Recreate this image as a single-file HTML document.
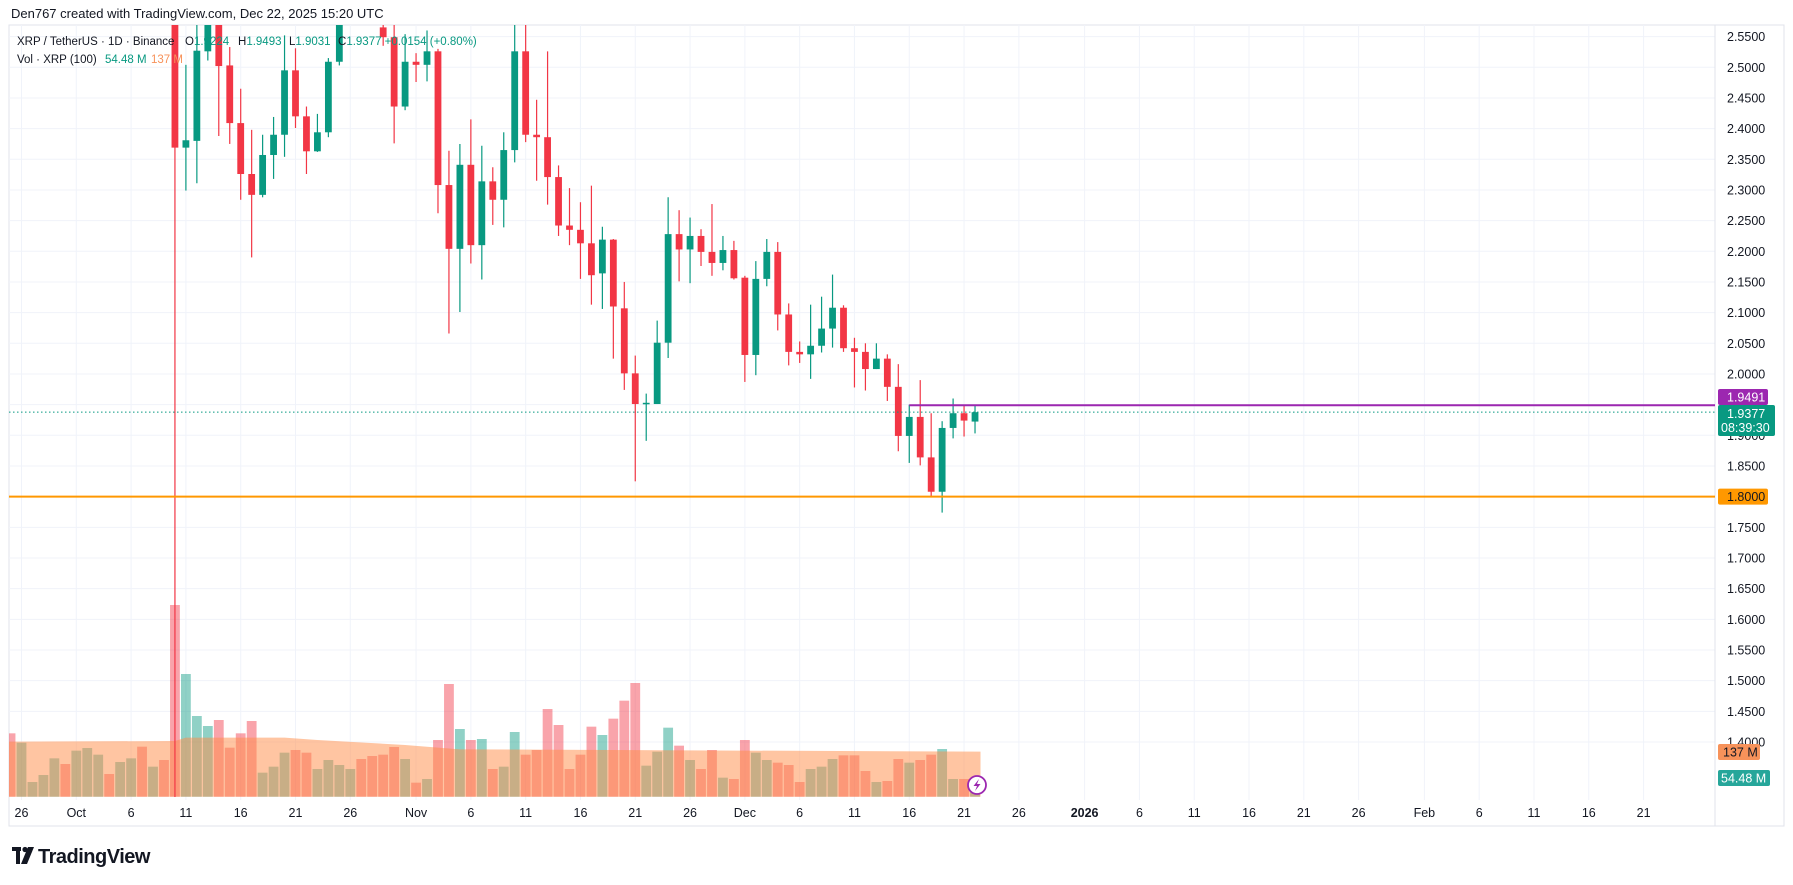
<!DOCTYPE html>
<html><head><meta charset="utf-8">
<style>
html,body{margin:0;padding:0;background:#fff;}
svg{display:block;font-family:"Liberation Sans",sans-serif;}
</style></head>
<body>
<svg id="s" width="1793" height="885" viewBox="0 0 1793 885" xmlns="http://www.w3.org/2000/svg"></svg>
<script>
const S=document.getElementById('s');
let h='';
const X=d=>76.3+10.96*d;
const Y=p=>36.6+(2.55-p)*613.4;
const L=9,R=1715,T=25,B=800;
h+=`<rect x="${L}" y="${T}" width="${1784-L}" height="${826-T}" fill="#fff" stroke="#e0e3eb" stroke-width="1"/>`;
for(let i=0;i<=23;i++){const p=2.55-i*0.05;const y=Y(p);h+=`<line x1="${L}" x2="${R}" y1="${y}" y2="${y}" stroke="#f0f3fa"/>`;}
const ticks=[[-5,'26'],[0,'Oct'],[5,'6'],[10,'11'],[15,'16'],[20,'21'],[25,'26'],[31,'Nov'],[36,'6'],[41,'11'],[46,'16'],[51,'21'],[56,'26'],[61,'Dec'],[66,'6'],[71,'11'],[76,'16'],[81,'21'],[86,'26'],[92,'2026'],[97,'6'],[102,'11'],[107,'16'],[112,'21'],[117,'26'],[123,'Feb'],[128,'6'],[133,'11'],[138,'16'],[143,'21']];
for(const [d,t] of ticks){const x=X(d);h+=`<line x1="${x}" x2="${x}" y1="${T}" y2="${B}" stroke="#f0f3fa"/>`;
const bold=(t=='2026');h+=`<text x="${x}" y="817" font-size="12.5" fill="#131722" text-anchor="middle"${bold?' font-weight="bold"':''}>${t}</text>`;}
h+=`<line x1="${R}" x2="${R}" y1="${T}" y2="826" stroke="#e0e3eb"/>`;
h+=`<clipPath id="c"><rect x="${L}" y="${T}" width="${R-L}" height="${797-T}"/></clipPath><g clip-path="url(#c)">`;
const V="430r,458g,576g,555g,505g,522r,482g,474g,494g,552r,516g,505g,470r,530g,510r,45r,252g,378g,408g,390r,473r,430r,393r,548g,530g,488g,480r,488r,537g,510g,525g,537g,507r,498r,494r,471r,507g,578r,567g,450r,282r,417g,450r,447g,537r,530g,426g,494r,480r,357r,405r,537r,494r,410r,435g,386r,332r,279r,527g,485g,413g,467r,510g,537r,480r,563g,567r,450r,488g,510g,518r,525r,576r,537g,530g,507g,496r,496r,543r,576g,573r,507r,518g,510r,494r,477g,567g,567r,590g".split(',');
V.forEach((v,i)=>{const d=i-6;const zy=parseFloat(v);const y=590+zy/3;const c=v.endsWith('r')?'rgba(242,54,69,0.45)':'rgba(8,153,129,0.45)';
h+=`<rect x="${X(d)-4.9}" y="${y}" width="9.8" height="${796.7-y}" fill="${c}"/>`;});
const ma=[[-6.5,455],[9,453],[10,443],[19,443],[22,450],[30,465],[35,478],[82.5,485]];
let pts=ma.map(([d,z])=>`${X(d)},${590+z/3}`).join(' ');
h+=`<polygon points="${X(-6.5)},796.7 ${pts} ${X(82.5)},796.7" fill="rgba(255,140,70,0.5)"/>`;
const C=[[9,2.85,2.9,1.0,2.369],[10,2.369,2.504,2.299,2.381],[11,2.38,2.6,2.311,2.527],[12,2.526,2.65,2.511,2.62],[13,2.62,2.65,2.388,2.502],[14,2.503,2.533,2.375,2.409],[15,2.409,2.465,2.284,2.326],[16,2.326,2.398,2.19,2.292],[17,2.292,2.39,2.288,2.357],[18,2.357,2.419,2.318,2.390],[19,2.39,2.552,2.354,2.495],[20,2.495,2.531,2.401,2.42],[21,2.42,2.436,2.326,2.363],[22,2.363,2.424,2.362,2.394],[23,2.394,2.515,2.386,2.509],[24,2.509,2.7,2.503,2.65],[25,2.65,2.75,2.6,2.68],[26,2.68,2.75,2.6,2.64],[27,2.64,2.7,2.6,2.62],[28,2.565,2.6,2.535,2.549],[29,2.549,2.6,2.376,2.436],[30,2.436,2.554,2.43,2.509],[31,2.509,2.523,2.476,2.504],[32,2.504,2.56,2.477,2.526],[33,2.526,2.53,2.262,2.308],[34,2.308,2.364,2.066,2.204],[35,2.204,2.375,2.101,2.341],[36,2.341,2.415,2.18,2.21],[37,2.21,2.372,2.154,2.314],[38,2.314,2.337,2.243,2.284],[39,2.284,2.394,2.239,2.365],[40,2.365,2.6,2.345,2.526],[41,2.526,2.6,2.378,2.39],[42,2.39,2.447,2.315,2.386],[43,2.386,2.526,2.276,2.321],[44,2.321,2.34,2.225,2.242],[45,2.242,2.303,2.21,2.235],[46,2.235,2.28,2.155,2.213],[47,2.213,2.307,2.113,2.161],[48,2.164,2.24,2.106,2.219],[49,2.219,2.22,2.025,2.110],[50,2.107,2.15,1.974,2.001],[51,2.001,2.03,1.825,1.951],[52,1.951,1.968,1.891,1.953],[53,1.951,2.087,1.951,2.051],[54,2.051,2.288,2.026,2.228],[55,2.228,2.267,2.151,2.203],[56,2.203,2.255,2.148,2.225],[57,2.225,2.236,2.176,2.199],[58,2.199,2.277,2.16,2.181],[59,2.181,2.225,2.169,2.202],[60,2.202,2.217,2.154,2.156],[61,2.157,2.16,1.987,2.031],[62,2.031,2.184,1.998,2.155],[63,2.155,2.22,2.143,2.199],[64,2.199,2.215,2.071,2.097],[65,2.097,2.115,2.014,2.036],[66,2.036,2.053,2.018,2.032],[67,2.032,2.113,1.992,2.046],[68,2.046,2.126,2.035,2.074],[69,2.074,2.162,2.043,2.108],[70,2.108,2.112,2.036,2.042],[71,2.042,2.059,1.978,2.036],[72,2.036,2.05,1.973,2.008],[73,2.008,2.05,2.008,2.025],[74,2.025,2.032,1.956,1.979],[75,1.979,2.016,1.874,1.899],[76,1.899,1.95,1.855,1.93],[77,1.93,1.99,1.851,1.864],[78,1.864,1.936,1.80,1.808],[79,1.808,1.923,1.774,1.912],[80,1.912,1.96,1.895,1.936],[81,1.936,1.949,1.898,1.924],[82,1.9224,1.9493,1.9031,1.9377]];
for(const [d,o,hi,lo,c] of C){const col=c>=o?'#089981':'#f23645';const x=X(d);
h+=`<line x1="${x}" x2="${x}" y1="${Y(hi)}" y2="${Math.min(Y(lo),797)}" stroke="${col}" stroke-width="1.2"/>`;
const y1=Y(Math.max(o,c)),y2=Y(Math.min(o,c));h+=`<rect x="${x-3.4}" y="${y1}" width="6.8" height="${Math.max(1.5,y2-y1)}" fill="${col}"/>`;}
h+='</g>';
h+=`<line x1="${L}" x2="${R}" y1="${Y(1.9377)}" y2="${Y(1.9377)}" stroke="#089981" stroke-width="1" stroke-dasharray="1.5,2.5"/>`;
h+=`<line x1="${X(76)}" x2="${R}" y1="${Y(1.9491)}" y2="${Y(1.9491)}" stroke="#9c27b0" stroke-width="2"/>`;
h+=`<line x1="${L}" x2="${R}" y1="${Y(1.8)}" y2="${Y(1.8)}" stroke="#ff9800" stroke-width="2"/>`;
for(let i=0;i<=23;i++){const p=2.55-i*0.05;h+=`<text x="1727" y="${Y(p)+4.5}" font-size="12.5" fill="#131722">${p.toFixed(4)}</text>`;}
h+=`<rect x="1718" y="${Y(1.8)-8}" width="50" height="16" rx="2" fill="#ff9800"/><text x="1727" y="${Y(1.8)+4.5}" font-size="12.5" fill="#131722">1.8000</text>`;
h+=`<rect x="1718" y="405" width="57" height="31" rx="2" fill="#089981"/><text x="1727" y="418" font-size="12.5" fill="#fff">1.9377</text><text x="1721" y="432" font-size="12.5" fill="#fff">08:39:30</text>`;
h+=`<rect x="1718" y="389" width="50" height="16" rx="2" fill="#9c27b0"/><text x="1727" y="401.5" font-size="12.5" fill="#fff">1.9491</text>`;
h+=`<rect x="1718" y="744" width="42" height="16" rx="2" fill="#f7925a"/><text x="1723" y="756.5" font-size="12.5" fill="#131722">137 M</text>`;
h+=`<rect x="1718" y="770" width="52" height="16" rx="2" fill="#26a69a"/><text x="1721" y="782.5" font-size="12.5" fill="#fff">54.48 M</text>`;
h+=`<circle cx="977" cy="785" r="9" fill="#fff" stroke="#9c27b0" stroke-width="1.8"/><path d="M979 779 L973.5 786 L977 786 L975 791 L980.5 784 L977 784 Z" fill="#9c27b0"/>`;
h+=`<text x="11" y="18" font-size="13" fill="#131722">Den767 created with TradingView.com, Dec 22, 2025 15:20 UTC</text>`;
h+=`<text x="17" y="45" font-size="11.5" fill="#131722">XRP / TetherUS · 1D · Binance <tspan x="185">O</tspan><tspan fill="#089981">1.9224</tspan> <tspan x="238">H</tspan><tspan fill="#089981">1.9493</tspan> <tspan x="289">L</tspan><tspan fill="#089981">1.9031</tspan> <tspan x="338">C</tspan><tspan fill="#089981">1.9377 +0.0154 (+0.80%)</tspan></text>`;
h+=`<text x="17" y="63" font-size="11.5" fill="#131722">Vol · XRP (100) <tspan x="105" fill="#089981">54.48 M</tspan> <tspan x="151" fill="#f7925a">137 M</tspan></text>`;
h+=`<rect x="12" y="847" width="9" height="4" fill="#131722"/><rect x="16" y="847" width="4" height="17" fill="#131722"/><circle cx="25" cy="849.5" r="2.6" fill="#131722"/><path d="M28 847 L34 847 L27 864 L21 864 Z" fill="#131722"/>`;
h+=`<text x="38" y="863" font-size="20" font-weight="bold" fill="#131722" letter-spacing="-0.5">TradingView</text>`;
S.innerHTML=h;
</script>
</body></html>
